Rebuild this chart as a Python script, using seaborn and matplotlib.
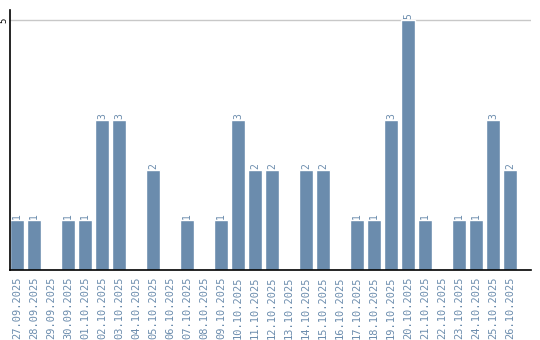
import matplotlib
matplotlib.use("Agg")
import matplotlib.pyplot as plt
import seaborn as sns
import pandas as pd

dates = ["27.09.2025", "28.09.2025", "29.09.2025", "30.09.2025", "01.10.2025",
         "02.10.2025", "03.10.2025", "04.10.2025", "05.10.2025", "06.10.2025",
         "07.10.2025", "08.10.2025", "09.10.2025", "10.10.2025", "11.10.2025",
         "12.10.2025", "13.10.2025", "14.10.2025", "15.10.2025", "16.10.2025",
         "17.10.2025", "18.10.2025", "19.10.2025", "20.10.2025", "21.10.2025",
         "22.10.2025", "23.10.2025", "24.10.2025", "25.10.2025", "26.10.2025"]
counts = [1, 1, 0, 1, 1, 3, 3, 0, 2, 0, 1, 0, 1, 3, 2, 2, 0, 2, 2, 0,
          1, 1, 3, 5, 1, 0, 1, 1, 3, 2]
yticks = [5]

sns.set_style("white")
plt.rcParams['font.family'] = ['DejaVu Sans Mono', 'DejaVu Sans']

bar_color = "#6b8cad"
text_color = "#6b8cad"

df = pd.DataFrame({"date": dates, "count": counts})

fig = plt.figure(figsize=(5.4, 3.4), dpi=100)
ax = fig.add_axes([10/540, 1-270/340, 521/540, 260/340])

sns.barplot(data=df, x="date", y="count", color=bar_color, width=0.82,
            saturation=1, ax=ax, order=dates)

ax.set_xlim(-0.41, 30.24)
ax.set_ylim(0, 5.2)
ax.set_yticks(yticks)
ax.set_yticklabels([str(v) for v in yticks], rotation=90, va="center",
                   ha="right", fontsize=6.5, color="black")
ax.tick_params(axis="y", length=0, pad=1.5)
ax.tick_params(axis="x", length=0, pad=5)
ax.set_xticks(range(len(dates)))
ax.set_xticklabels(dates, rotation=90, fontsize=7.5, color=text_color)
ax.set_xlabel("")
ax.set_ylabel("")

for y in yticks:
    ax.axhline(y, color="#c8c8c8", linewidth=1, zorder=0)

for s in ["top", "right"]:
    ax.spines[s].set_visible(False)
ax.spines["left"].set_color("black")
ax.spines["bottom"].set_color("black")
ax.spines["left"].set_linewidth(1.2)
ax.spines["bottom"].set_linewidth(1.2)

cont = ax.containers[0]
labels = [str(v) if v > 0 else "" for v in counts]
ax.bar_label(cont, labels=labels, rotation=90, fontsize=7, color=text_color,
             padding=1)

fig.savefig("out.png", dpi=100)
